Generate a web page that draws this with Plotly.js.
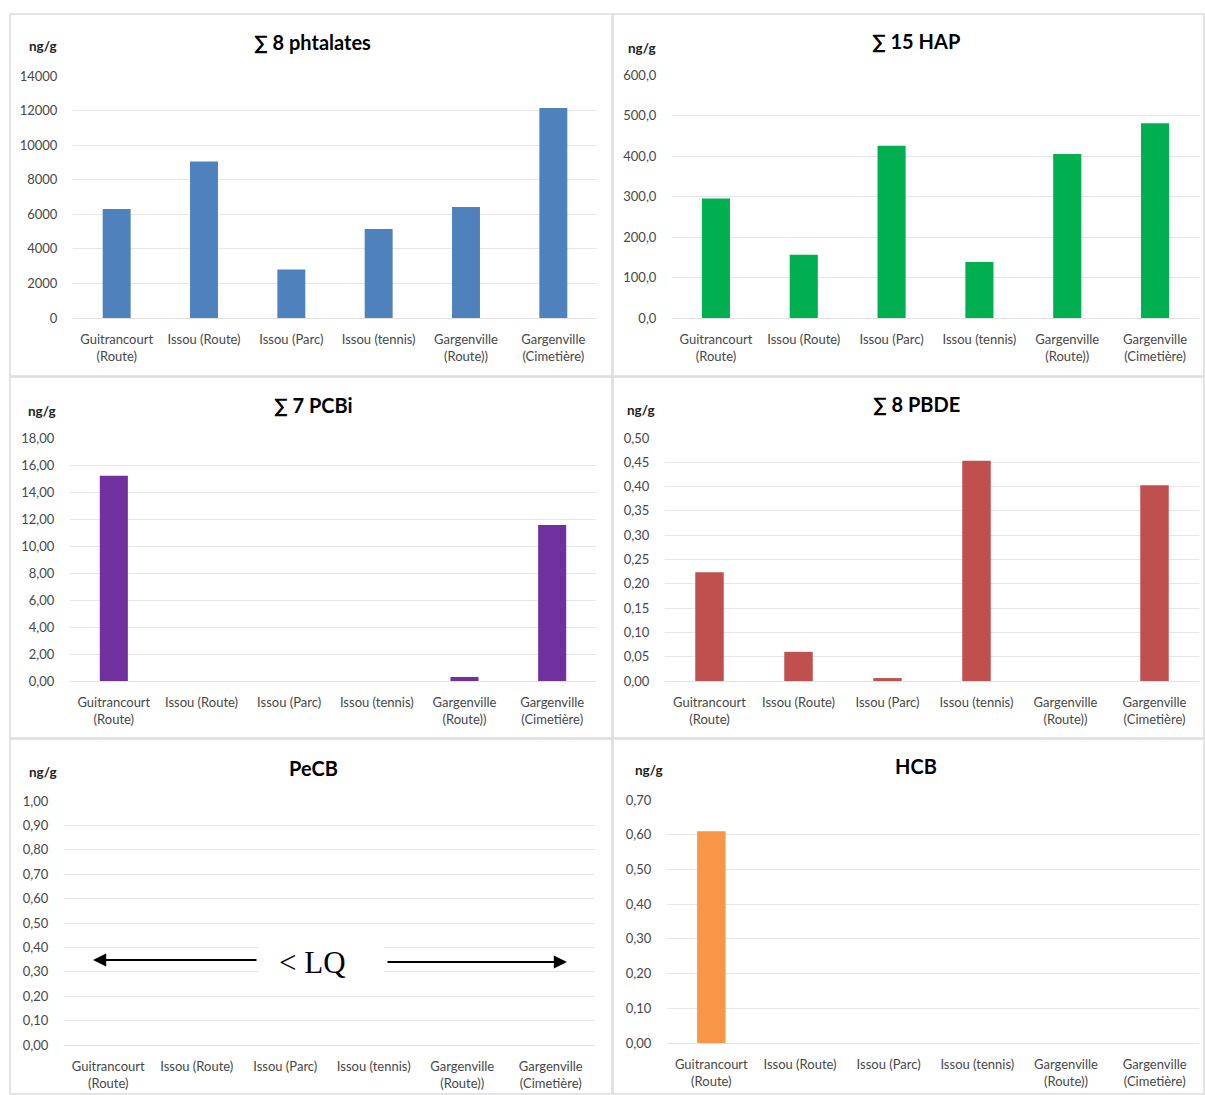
<!DOCTYPE html>
<html>
<head>
<meta charset="utf-8">
<script src="https://cdn.plot.ly/plotly-3.0.1.min.js"></script>
<style>html,body{margin:0;padding:0;background:#fff;}#chart{width:1205px;height:1095px;}</style>
</head>
<body>
<div id="chart"></div>
<script>
const categories = ["Guitrancourt<br>(Route)", "Issou (Route)", "Issou (Parc)", "Issou (tennis)", "Gargenville<br>(Route))", "Gargenville<br>(Cimetière)"];
const phtalates = [6300, 9050, 2800, 5150, 6420, 12150];
const hap = [295, 156, 425, 138, 405, 481];
const pcbi = [15.2, 0, 0, 0, 0.3, 11.55];
const pbde = [0.224, 0.06, 0.006, 0.453, 0, 0.403];
const pecb = [0, 0, 0, 0, 0, 0];
const hcb = [0.61, 0, 0, 0, 0, 0];
const titles = ["∑ 8 phtalates", "∑ 15 HAP", "∑ 7 PCBi", "∑ 8 PBDE", "PeCB", "HCB"];
const unitLabel = "ng/g";
const lqLabel = "< LQ";

const W = 1205, H = 1095;
const px = v => v / W;
const py = v => 1 - v / H;

const series = [phtalates, hap, pcbi, pbde, pecb, hcb];
const colors = ["#4f81bd", "#00b050", "#7030a0", "#c0504d", "#f79646", "#f79646"];
// plot boxes [x0, x1, yTop, yBottom] in pixels
const boxes = [
  [73, 597, 76, 318],
  [672, 1199, 75, 318],
  [70, 596, 438, 681],
  [665, 1199, 438, 681],
  [64, 595, 801, 1045],
  [667, 1199, 800, 1043]
];
const yRanges = [[0, 14000], [0, 600], [0, 18], [0, 0.5], [0, 1], [0, 0.7]];
const dticks = [2000, 100, 2, 0.05, 0.1, 0.1];
const tformats = ["d", ".1f", ".2f", ".2f", ".2f", ".2f"];
const titlePos = [[312, 42], [916, 41], [313, 405], [916, 404], [313, 768], [916, 766]];
const unitPos = [[43, 46], [642, 48], [42, 411], [641, 410], [43, 772], [649, 770]];
const frames = [
  [10, 612, 14, 376], [613, 1204, 14, 376],
  [10, 612, 377, 738], [613, 1204, 377, 738],
  [10, 612, 739, 1094], [613, 1204, 739, 1094]
];

const tickFont = {family: "Lato, 'Open Sans', sans-serif", size: 13, color: "#474747"};
const data = [];
const layout = {
  width: W, height: H,
  margin: {l: 0, r: 0, t: 0, b: 0},
  paper_bgcolor: "#fff", plot_bgcolor: "rgba(0,0,0,0)",
  separators: ", ",
  showlegend: false,
  bargap: 0.68,
  font: tickFont,
  shapes: [], annotations: []
};

for (let i = 0; i < 6; i++) {
  const s = i === 0 ? "" : String(i + 1);
  data.push({
    type: "bar", x: categories, y: series[i],
    xaxis: "x" + s, yaxis: "y" + s,
    marker: {color: colors[i]}, hoverinfo: "skip"
  });
  const b = boxes[i];
  layout["xaxis" + s] = {
    domain: [px(b[0]), px(b[1])], anchor: "y" + s,
    showgrid: false, showline: true, linecolor: "#e2e2e2", linewidth: 1,
    ticks: "outside", ticklen: 9, tickcolor: "rgba(0,0,0,0)",
    tickfont: tickFont, tickangle: 0, fixedrange: true
  };
  layout["yaxis" + s] = {
    domain: [py(b[3]), py(b[2])], anchor: "x" + s,
    range: yRanges[i], dtick: dticks[i], tick0: 0, tickformat: tformats[i],
    showgrid: true, gridcolor: "#e6e6e6", gridwidth: 1, zeroline: false, showline: false,
    ticks: "outside", ticklen: 12, tickcolor: "rgba(0,0,0,0)",
    tickfont: tickFont, fixedrange: true
  };
  const f = frames[i];
  layout.shapes.push({type: "rect", xref: "paper", yref: "paper",
    x0: px(f[0]), x1: px(f[1]), y0: py(f[3]), y1: py(f[2]),
    line: {color: "#dcdcdc", width: 1.5}, fillcolor: "rgba(0,0,0,0)", layer: "below"});
  layout.annotations.push({xref: "paper", yref: "paper", x: px(titlePos[i][0]), y: py(titlePos[i][1]),
    text: "<b>" + titles[i] + "</b>", showarrow: false, xanchor: "center", yanchor: "middle",
    font: {family: "Lato, 'Open Sans', sans-serif", size: 20, color: "#000"}});
  layout.annotations.push({xref: "paper", yref: "paper", x: px(unitPos[i][0]), y: py(unitPos[i][1]),
    text: "<b>" + unitLabel + "</b>", showarrow: false, xanchor: "center", yanchor: "middle",
    font: {family: "Lato, 'Open Sans', sans-serif", size: 13.5, color: "#222"}});
}

// white box behind "< LQ"
layout.shapes.push({type: "rect", xref: "paper", yref: "paper",
  x0: px(259), x1: px(385), y0: py(992), y1: py(935),
  line: {width: 0}, fillcolor: "#fff", layer: "above"});
layout.annotations.push({xref: "paper", yref: "paper", x: px(312), y: py(962),
  text: lqLabel, showarrow: false, xanchor: "center", yanchor: "middle",
  font: {family: "'Liberation Serif', 'DejaVu Serif', serif", size: 31, color: "#000"}});
// arrows
layout.annotations.push({xref: "paper", yref: "paper", x: px(93), y: py(960), ax: 258 - 93, ay: 0,
  text: "", showarrow: true, arrowhead: 2, arrowsize: 1.2, arrowwidth: 2.2, arrowcolor: "#000"});
layout.annotations.push({xref: "paper", yref: "paper", x: px(567), y: py(962), ax: 386 - 567, ay: 0,
  text: "", showarrow: true, arrowhead: 2, arrowsize: 1.2, arrowwidth: 2.2, arrowcolor: "#000"});

Plotly.newPlot("chart", data, layout, {displayModeBar: false, staticPlot: true});
</script>
</body>
</html>
